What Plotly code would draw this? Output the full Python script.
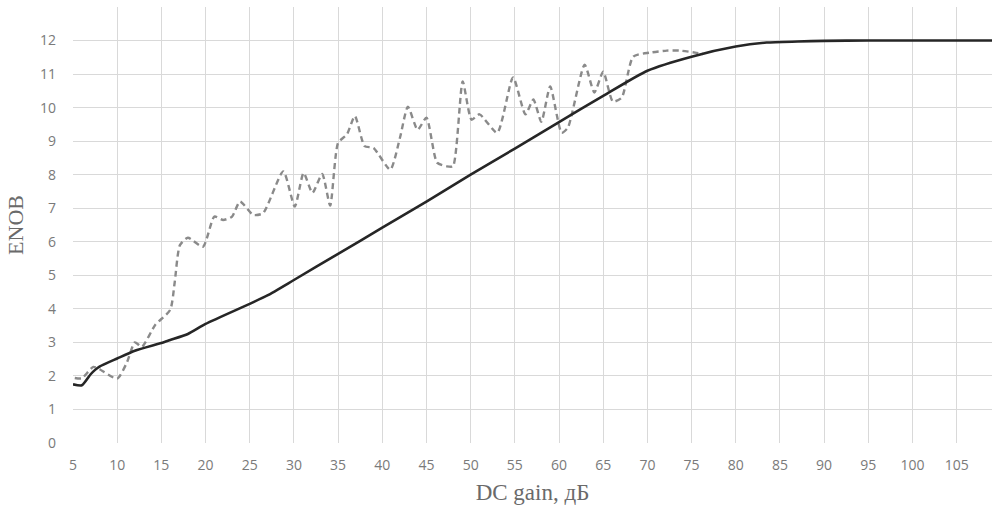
import plotly.graph_objects as go

# Solid curve
gain_solid = [5, 6, 7, 7.5, 8, 10, 12, 15, 16, 18, 20, 25, 27, 30, 35, 40, 45, 50, 55, 60, 65, 70,
              75, 80, 83.5, 87, 90, 95, 100, 109]
enob_solid = [1.75, 1.72, 2.05, 2.18, 2.28, 2.52, 2.75, 2.98, 3.07, 3.25, 3.55, 4.15, 4.4, 4.86, 5.64,
              6.42, 7.2, 8.0, 8.78, 9.57, 10.35, 11.1, 11.52, 11.82, 11.94, 11.97, 11.99, 12.0, 12.0, 12.0]

# Dashed curve
gain_dash = [5.2, 6, 7.3, 8, 10, 11.1, 12, 12.8, 14.3, 16, 16.5, 17.1, 18, 19.7, 21, 22, 23, 23.9,
             25.4, 26.5, 28.8, 30.1, 31.1, 32.1, 33.2, 34.1, 35, 36, 36.9, 38, 39, 40.9, 42, 42.9,
             44, 45, 46.2, 47.3, 48, 49.1, 50.1, 51, 53, 54.8, 56.2, 57.1, 58, 59, 60.3, 61, 62.9,
             64, 65, 66.1, 67.1, 68.4, 70.3, 72.2, 73.7, 75.4, 76.3]
enob_dash = [1.94, 1.93, 2.27, 2.2, 1.92, 2.4, 3.0, 2.87, 3.52, 3.97, 4.77, 5.9, 6.12, 5.85, 6.75, 6.65,
             6.75, 7.2, 6.8, 6.85, 8.1, 7.05, 8.05, 7.46, 8.02, 7.08, 8.95, 9.2, 9.75, 8.85, 8.8, 8.15,
             9.1, 10.03, 9.34, 9.7, 8.36, 8.25, 8.25, 10.78, 9.64, 9.8, 9.25, 10.9, 9.8, 10.24, 9.58,
             10.63, 9.25, 9.4, 11.28, 10.45, 11.07, 10.18, 10.3, 11.52, 11.64, 11.7, 11.7, 11.64, 11.6]

x_ticks = list(range(5, 110, 5))
y_ticks = list(range(0, 14))
y_labels = [str(v) for v in range(0, 13)] + [""]

fig = go.Figure()
fig.add_trace(go.Scatter(x=gain_dash, y=enob_dash, mode="lines",
                         line=dict(color="#8a8a8a", width=2.4, dash="6px,4px", shape="spline", smoothing=0.6),
                         showlegend=False, hoverinfo="skip"))
fig.add_trace(go.Scatter(x=gain_solid, y=enob_solid, mode="lines",
                         line=dict(color="#262626", width=2.6, shape="spline", smoothing=0.6),
                         showlegend=False, hoverinfo="skip"))

tickfont = dict(family="Open Sans, Noto Sans, sans-serif", size=14, color="#7a7a7a")
xtitlefont = dict(family="Liberation Serif, serif", size=23, color="#6a6a6a")
ytitlefont = dict(family="Liberation Serif, serif", size=22, color="#6a6a6a")

fig.update_layout(
    width=992, height=512,
    margin=dict(l=73, r=0, t=7, b=69),
    plot_bgcolor="white", paper_bgcolor="white",
    xaxis=dict(range=[5, 109], tickvals=x_ticks, showgrid=True, gridcolor="#d9d9d9", gridwidth=1,
               zeroline=False, showline=False, ticks="", tickfont=tickfont, ticklabelstandoff=12,
               title=dict(text="DC gain, дБ", font=xtitlefont, standoff=10)),
    yaxis=dict(range=[0, 13], tickvals=y_ticks, ticktext=y_labels, showgrid=True, gridcolor="#d9d9d9",
               gridwidth=1, zeroline=False, showline=False, ticks="", tickfont=tickfont,
               ticklabelstandoff=16,
               title=dict(text="ENOB", font=ytitlefont, standoff=10)),
)

fig.write_html("out.html")
